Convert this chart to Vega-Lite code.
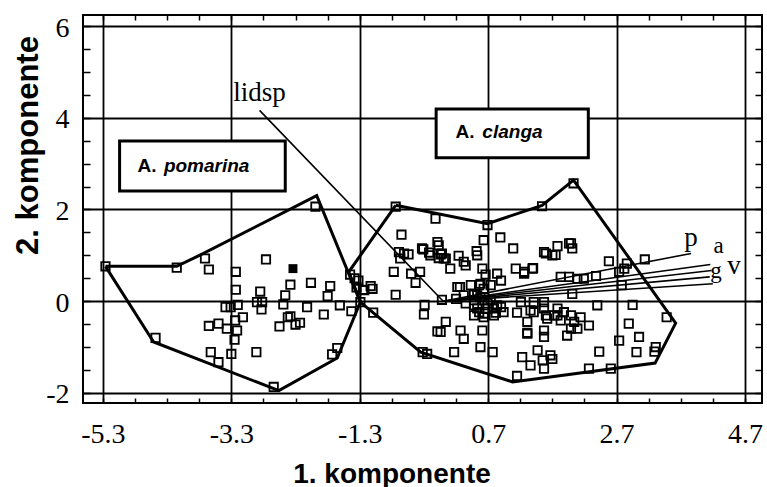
{
  "$schema": "https://vega.github.io/schema/vega-lite/v6.json",
  "width": 679,
  "height": 388,
  "autosize": {"type": "none"},
  "padding": {"left": 83, "top": 15, "right": 5, "bottom": 84},
  "background": "white",
  "config": {
    "view": {"stroke": "black", "strokeWidth": 2},
    "axis": {
      "domain": false,
      "gridColor": "black",
      "gridWidth": 1.8,
      "tickColor": "black",
      "tickWidth": 1.5,
      "labelColor": "black",
      "labelFont": "Liberation Serif",
      "labelFontSize": 28,
      "titleColor": "black",
      "titleFont": "Liberation Sans",
      "titleFontWeight": "bold",
      "titleFontSize": 28,
      "labelOverlap": false,
      "labelFlush": false
    }
  },
  "datasets": {
    "points": [
      {"x": -5.26, "y": 0.76, "species": "pomarina", "kind": "open"},
      {"x": -4.15, "y": 0.73, "species": "pomarina", "kind": "open"},
      {"x": -3.71, "y": 0.93, "species": "pomarina", "kind": "open"},
      {"x": -3.65, "y": 0.69, "species": "pomarina", "kind": "open"},
      {"x": -3.23, "y": 0.64, "species": "pomarina", "kind": "open"},
      {"x": -3.23, "y": 0.25, "species": "pomarina", "kind": "open"},
      {"x": -2.76, "y": 0.91, "species": "pomarina", "kind": "open"},
      {"x": -2.85, "y": 0.21, "species": "pomarina", "kind": "open"},
      {"x": -2.90, "y": -0.02, "species": "pomarina", "kind": "open"},
      {"x": -2.82, "y": -0.02, "species": "pomarina", "kind": "open"},
      {"x": -2.83, "y": -0.18, "species": "pomarina", "kind": "open"},
      {"x": -2.46, "y": 0.13, "species": "pomarina", "kind": "open"},
      {"x": -2.49, "y": -0.07, "species": "pomarina", "kind": "open"},
      {"x": -2.42, "y": -0.35, "species": "pomarina", "kind": "open"},
      {"x": -3.39, "y": -0.13, "species": "pomarina", "kind": "open"},
      {"x": -3.31, "y": -0.13, "species": "pomarina", "kind": "open"},
      {"x": -3.65, "y": -0.54, "species": "pomarina", "kind": "open"},
      {"x": -3.50, "y": -0.49, "species": "pomarina", "kind": "open"},
      {"x": -3.37, "y": -0.60, "species": "pomarina", "kind": "open"},
      {"x": -3.24, "y": -0.42, "species": "pomarina", "kind": "open"},
      {"x": -3.12, "y": -0.35, "species": "pomarina", "kind": "open"},
      {"x": -3.21, "y": -0.64, "species": "pomarina", "kind": "open"},
      {"x": -3.25, "y": -0.84, "species": "pomarina", "kind": "open"},
      {"x": -3.62, "y": -1.11, "species": "pomarina", "kind": "open"},
      {"x": -3.50, "y": -1.33, "species": "pomarina", "kind": "open"},
      {"x": -3.30, "y": -1.15, "species": "pomarina", "kind": "open"},
      {"x": -2.91, "y": -1.11, "species": "pomarina", "kind": "open"},
      {"x": -4.48, "y": -0.80, "species": "pomarina", "kind": "open"},
      {"x": -2.64, "y": -1.87, "species": "pomarina", "kind": "open"},
      {"x": -1.99, "y": 2.06, "species": "pomarina", "kind": "open"},
      {"x": -2.38, "y": 0.36, "species": "pomarina", "kind": "open"},
      {"x": -2.06, "y": 0.40, "species": "pomarina", "kind": "open"},
      {"x": -1.76, "y": 0.33, "species": "pomarina", "kind": "open"},
      {"x": -1.80, "y": 0.11, "species": "pomarina", "kind": "open"},
      {"x": -2.12, "y": -0.13, "species": "pomarina", "kind": "open"},
      {"x": -1.86, "y": -0.29, "species": "pomarina", "kind": "open"},
      {"x": -1.61, "y": -0.09, "species": "pomarina", "kind": "open"},
      {"x": -1.43, "y": -0.22, "species": "pomarina", "kind": "open"},
      {"x": -2.38, "y": -0.33, "species": "pomarina", "kind": "open"},
      {"x": -2.30, "y": -0.51, "species": "pomarina", "kind": "open"},
      {"x": -2.23, "y": -0.47, "species": "pomarina", "kind": "open"},
      {"x": -1.73, "y": -1.16, "species": "pomarina", "kind": "open"},
      {"x": -1.65, "y": -1.02, "species": "pomarina", "kind": "open"},
      {"x": -1.45, "y": 0.58, "species": "pomarina", "kind": "open"},
      {"x": -1.32, "y": 0.45, "species": "pomarina", "kind": "open"},
      {"x": -1.38, "y": 0.50, "species": "pomarina", "kind": "open"},
      {"x": -1.35, "y": 0.30, "species": "pomarina", "kind": "open"},
      {"x": -1.25, "y": 0.25, "species": "pomarina", "kind": "open"},
      {"x": -3.20, "y": -0.08, "species": "pomarina", "kind": "open"},
      {"x": -2.55, "y": -0.55, "species": "pomarina", "kind": "open"},
      {"x": -2.34, "y": 0.71, "species": "pomarina", "kind": "solid"},
      {"x": -1.13, "y": 0.33, "species": "clanga", "kind": "open"},
      {"x": -1.10, "y": 0.27, "species": "clanga", "kind": "open"},
      {"x": -1.23, "y": 0.24, "species": "clanga", "kind": "open"},
      {"x": -1.29, "y": -0.02, "species": "clanga", "kind": "open"},
      {"x": -1.09, "y": -0.25, "species": "clanga", "kind": "open"},
      {"x": -0.74, "y": 2.06, "species": "clanga", "kind": "open"},
      {"x": -0.12, "y": 1.80, "species": "clanga", "kind": "open"},
      {"x": -0.65, "y": 1.45, "species": "clanga", "kind": "open"},
      {"x": -0.09, "y": 1.29, "species": "clanga", "kind": "open"},
      {"x": -0.69, "y": 1.07, "species": "clanga", "kind": "open"},
      {"x": -0.61, "y": 1.04, "species": "clanga", "kind": "open"},
      {"x": -0.54, "y": 1.02, "species": "clanga", "kind": "open"},
      {"x": -0.67, "y": 0.93, "species": "clanga", "kind": "open"},
      {"x": -0.31, "y": 1.13, "species": "clanga", "kind": "open"},
      {"x": -0.20, "y": 1.00, "species": "clanga", "kind": "open"},
      {"x": -0.22, "y": 1.06, "species": "clanga", "kind": "open"},
      {"x": -0.77, "y": 0.64, "species": "clanga", "kind": "open"},
      {"x": -0.50, "y": 0.60, "species": "clanga", "kind": "open"},
      {"x": -0.43, "y": 0.40, "species": "clanga", "kind": "open"},
      {"x": -0.36, "y": 0.64, "species": "clanga", "kind": "open"},
      {"x": -0.74, "y": 0.14, "species": "clanga", "kind": "open"},
      {"x": -0.29, "y": -0.08, "species": "clanga", "kind": "open"},
      {"x": -0.30, "y": -0.29, "species": "clanga", "kind": "open"},
      {"x": -0.09, "y": -0.66, "species": "clanga", "kind": "open"},
      {"x": -0.32, "y": -1.11, "species": "clanga", "kind": "open"},
      {"x": -0.25, "y": -1.15, "species": "clanga", "kind": "open"},
      {"x": 0.69, "y": 1.66, "species": "clanga", "kind": "open"},
      {"x": 0.89, "y": 1.39, "species": "clanga", "kind": "open"},
      {"x": 0.63, "y": 1.33, "species": "clanga", "kind": "open"},
      {"x": 1.09, "y": 1.15, "species": "clanga", "kind": "open"},
      {"x": -0.02, "y": 1.04, "species": "clanga", "kind": "open"},
      {"x": 0.01, "y": 0.93, "species": "clanga", "kind": "open"},
      {"x": -0.07, "y": 0.94, "species": "clanga", "kind": "open"},
      {"x": 0.11, "y": 0.71, "species": "clanga", "kind": "open"},
      {"x": 0.24, "y": 0.99, "species": "clanga", "kind": "open"},
      {"x": 0.32, "y": 0.86, "species": "clanga", "kind": "open"},
      {"x": 0.35, "y": 0.78, "species": "clanga", "kind": "open"},
      {"x": 0.53, "y": 1.00, "species": "clanga", "kind": "open"},
      {"x": 0.52, "y": 1.09, "species": "clanga", "kind": "open"},
      {"x": 0.61, "y": 0.71, "species": "clanga", "kind": "open"},
      {"x": 0.66, "y": 0.58, "species": "clanga", "kind": "open"},
      {"x": 0.84, "y": 0.60, "species": "clanga", "kind": "open"},
      {"x": 1.13, "y": 0.71, "species": "clanga", "kind": "open"},
      {"x": 1.26, "y": 0.64, "species": "clanga", "kind": "open"},
      {"x": 1.40, "y": 0.72, "species": "clanga", "kind": "open"},
      {"x": 1.60, "y": 1.04, "species": "clanga", "kind": "open"},
      {"x": 1.75, "y": 1.01, "species": "clanga", "kind": "open"},
      {"x": 1.78, "y": 1.20, "species": "clanga", "kind": "open"},
      {"x": 0.26, "y": 0.31, "species": "clanga", "kind": "open"},
      {"x": 0.43, "y": 0.35, "species": "clanga", "kind": "open"},
      {"x": 0.58, "y": 0.38, "species": "clanga", "kind": "open"},
      {"x": -0.02, "y": 0.03, "species": "clanga", "kind": "open"},
      {"x": 0.48, "y": 0.02, "species": "clanga", "kind": "open"},
      {"x": 0.58, "y": 0.09, "species": "clanga", "kind": "open"},
      {"x": 0.69, "y": -0.05, "species": "clanga", "kind": "open"},
      {"x": 0.79, "y": -0.16, "species": "clanga", "kind": "open"},
      {"x": 0.90, "y": -0.13, "species": "clanga", "kind": "open"},
      {"x": 0.53, "y": -0.16, "species": "clanga", "kind": "open"},
      {"x": 0.48, "y": -0.31, "species": "clanga", "kind": "open"},
      {"x": 0.64, "y": -0.27, "species": "clanga", "kind": "open"},
      {"x": 0.82, "y": -0.25, "species": "clanga", "kind": "open"},
      {"x": 0.74, "y": 0.02, "species": "clanga", "kind": "open"},
      {"x": 0.64, "y": 0.02, "species": "clanga", "kind": "open"},
      {"x": 0.48, "y": 0.14, "species": "clanga", "kind": "open"},
      {"x": 0.74, "y": 0.35, "species": "clanga", "kind": "open"},
      {"x": 1.15, "y": -0.25, "species": "clanga", "kind": "open"},
      {"x": 1.36, "y": -0.20, "species": "clanga", "kind": "open"},
      {"x": 1.21, "y": -0.02, "species": "clanga", "kind": "open"},
      {"x": 1.41, "y": -0.02, "species": "clanga", "kind": "open"},
      {"x": 1.57, "y": -0.02, "species": "clanga", "kind": "open"},
      {"x": 1.60, "y": -0.31, "species": "clanga", "kind": "open"},
      {"x": 0.04, "y": -0.45, "species": "clanga", "kind": "open"},
      {"x": -0.04, "y": -0.67, "species": "clanga", "kind": "open"},
      {"x": 0.27, "y": -0.64, "species": "clanga", "kind": "open"},
      {"x": 0.32, "y": -0.82, "species": "clanga", "kind": "open"},
      {"x": 0.61, "y": -0.64, "species": "clanga", "kind": "open"},
      {"x": 0.58, "y": -1.00, "species": "clanga", "kind": "open"},
      {"x": 0.77, "y": -1.11, "species": "clanga", "kind": "open"},
      {"x": 0.17, "y": -1.11, "species": "clanga", "kind": "open"},
      {"x": 1.31, "y": -0.69, "species": "clanga", "kind": "open"},
      {"x": 1.57, "y": -0.78, "species": "clanga", "kind": "open"},
      {"x": 1.23, "y": -1.22, "species": "clanga", "kind": "open"},
      {"x": 1.36, "y": -1.40, "species": "clanga", "kind": "open"},
      {"x": 1.47, "y": -1.07, "species": "clanga", "kind": "open"},
      {"x": 1.55, "y": -1.29, "species": "clanga", "kind": "open"},
      {"x": 1.57, "y": -1.47, "species": "clanga", "kind": "open"},
      {"x": 1.15, "y": -1.63, "species": "clanga", "kind": "open"},
      {"x": 1.54, "y": 2.07, "species": "clanga", "kind": "open"},
      {"x": 2.03, "y": 2.57, "species": "clanga", "kind": "open"},
      {"x": 1.99, "y": 1.26, "species": "clanga", "kind": "open"},
      {"x": 2.01, "y": 1.15, "species": "clanga", "kind": "open"},
      {"x": 2.58, "y": 0.87, "species": "clanga", "kind": "open"},
      {"x": 2.86, "y": 0.82, "species": "clanga", "kind": "open"},
      {"x": 2.74, "y": 0.64, "species": "clanga", "kind": "open"},
      {"x": 2.82, "y": 0.71, "species": "clanga", "kind": "open"},
      {"x": 3.14, "y": 0.91, "species": "clanga", "kind": "open"},
      {"x": 1.83, "y": 0.53, "species": "clanga", "kind": "open"},
      {"x": 1.96, "y": 0.53, "species": "clanga", "kind": "open"},
      {"x": 2.19, "y": 0.49, "species": "clanga", "kind": "open"},
      {"x": 2.38, "y": 0.55, "species": "clanga", "kind": "open"},
      {"x": 2.01, "y": 0.16, "species": "clanga", "kind": "open"},
      {"x": 2.78, "y": 0.35, "species": "clanga", "kind": "open"},
      {"x": 2.40, "y": -0.09, "species": "clanga", "kind": "open"},
      {"x": 2.95, "y": -0.08, "species": "clanga", "kind": "open"},
      {"x": 3.48, "y": -0.35, "species": "clanga", "kind": "open"},
      {"x": 2.89, "y": -0.49, "species": "clanga", "kind": "open"},
      {"x": 3.05, "y": -0.78, "species": "clanga", "kind": "open"},
      {"x": 2.74, "y": -0.86, "species": "clanga", "kind": "open"},
      {"x": 3.31, "y": -1.00, "species": "clanga", "kind": "open"},
      {"x": 3.29, "y": -1.10, "species": "clanga", "kind": "open"},
      {"x": 3.01, "y": -1.11, "species": "clanga", "kind": "open"},
      {"x": 2.43, "y": -1.10, "species": "clanga", "kind": "open"},
      {"x": 1.70, "y": -1.26, "species": "clanga", "kind": "open"},
      {"x": 2.27, "y": -1.47, "species": "clanga", "kind": "open"},
      {"x": 2.61, "y": -1.47, "species": "clanga", "kind": "open"},
      {"x": 1.78, "y": -0.16, "species": "clanga", "kind": "open"},
      {"x": 1.88, "y": -0.24, "species": "clanga", "kind": "open"},
      {"x": 1.99, "y": -0.31, "species": "clanga", "kind": "open"},
      {"x": 2.14, "y": -0.35, "species": "clanga", "kind": "open"},
      {"x": 2.27, "y": -0.53, "species": "clanga", "kind": "open"},
      {"x": 2.09, "y": -0.60, "species": "clanga", "kind": "open"},
      {"x": 1.93, "y": -0.75, "species": "clanga", "kind": "open"},
      {"x": 2.04, "y": -0.45, "species": "clanga", "kind": "open"},
      {"x": 1.83, "y": -0.42, "species": "clanga", "kind": "open"},
      {"x": 1.73, "y": -0.31, "species": "clanga", "kind": "open"},
      {"x": -0.33, "y": 1.15, "species": "clanga", "kind": "open"},
      {"x": -0.04, "y": 1.02, "species": "clanga", "kind": "open"},
      {"x": -0.07, "y": 1.22, "species": "clanga", "kind": "open"},
      {"x": 0.04, "y": 0.93, "species": "clanga", "kind": "open"},
      {"x": 0.22, "y": 0.31, "species": "clanga", "kind": "open"},
      {"x": 0.56, "y": 0.35, "species": "clanga", "kind": "open"},
      {"x": 0.32, "y": 0.13, "species": "clanga", "kind": "open"},
      {"x": 0.53, "y": 0.13, "species": "clanga", "kind": "open"},
      {"x": 0.63, "y": 0.27, "species": "clanga", "kind": "open"},
      {"x": 0.48, "y": -0.09, "species": "clanga", "kind": "open"},
      {"x": 0.56, "y": -0.24, "species": "clanga", "kind": "open"},
      {"x": 0.69, "y": -0.16, "species": "clanga", "kind": "open"},
      {"x": 0.84, "y": -0.09, "species": "clanga", "kind": "open"},
      {"x": 0.94, "y": -0.24, "species": "clanga", "kind": "open"},
      {"x": 0.79, "y": -0.31, "species": "clanga", "kind": "open"},
      {"x": 0.63, "y": -0.35, "species": "clanga", "kind": "open"},
      {"x": 1.31, "y": -0.45, "species": "clanga", "kind": "open"},
      {"x": 1.41, "y": -0.24, "species": "clanga", "kind": "open"},
      {"x": 1.57, "y": -0.16, "species": "clanga", "kind": "open"},
      {"x": 1.62, "y": -0.38, "species": "clanga", "kind": "open"},
      {"x": 1.78, "y": -0.31, "species": "clanga", "kind": "open"},
      {"x": 1.99, "y": -0.60, "species": "clanga", "kind": "open"},
      {"x": 1.57, "y": -0.64, "species": "clanga", "kind": "open"},
      {"x": 1.31, "y": -0.71, "species": "clanga", "kind": "open"},
      {"x": 1.67, "y": -1.18, "species": "clanga", "kind": "open"},
      {"x": 1.26, "y": 0.60, "species": "clanga", "kind": "open"},
      {"x": 1.39, "y": 0.71, "species": "clanga", "kind": "open"},
      {"x": 1.57, "y": 1.07, "species": "clanga", "kind": "open"},
      {"x": 1.70, "y": 1.00, "species": "clanga", "kind": "open"},
      {"x": 1.96, "y": 1.26, "species": "clanga", "kind": "open"},
      {"x": 2.09, "y": 0.49, "species": "clanga", "kind": "open"},
      {"x": 0.35, "y": -0.05, "species": "clanga", "kind": "open"},
      {"x": 0.20, "y": 0.05, "species": "clanga", "kind": "open"},
      {"x": 0.90, "y": 0.45, "species": "clanga", "kind": "open"}
    ],
    "hulls": [
      {"species": "pomarina", "order": 1, "x": -5.26, "y": 0.76},
      {"species": "pomarina", "order": 2, "x": -4.15, "y": 0.76},
      {"species": "pomarina", "order": 3, "x": -3.78, "y": 1.01},
      {"species": "pomarina", "order": 4, "x": -1.97, "y": 2.30},
      {"species": "pomarina", "order": 5, "x": -1.29, "y": -0.02},
      {"species": "pomarina", "order": 6, "x": -1.65, "y": -1.24},
      {"species": "pomarina", "order": 7, "x": -2.56, "y": -1.95},
      {"species": "pomarina", "order": 8, "x": -4.51, "y": -0.89},
      {"species": "pomarina", "order": 9, "x": -5.26, "y": 0.76},
      {"species": "clanga", "order": 1, "x": -0.74, "y": 2.09},
      {"species": "clanga", "order": 2, "x": 0.69, "y": 1.69},
      {"species": "clanga", "order": 3, "x": 1.54, "y": 2.09},
      {"species": "clanga", "order": 4, "x": 2.03, "y": 2.64},
      {"species": "clanga", "order": 5, "x": 3.62, "y": -0.48},
      {"species": "clanga", "order": 6, "x": 3.30, "y": -1.35},
      {"species": "clanga", "order": 7, "x": 1.08, "y": -1.76},
      {"species": "clanga", "order": 8, "x": -0.35, "y": -1.11},
      {"species": "clanga", "order": 9, "x": -1.29, "y": -0.02},
      {"species": "clanga", "order": 10, "x": -1.47, "y": 0.64},
      {"species": "clanga", "order": 11, "x": -0.74, "y": 2.09}
    ],
    "vectors": [
      {"var": "lidsp", "order": 1, "x": 0, "y": 0},
      {"var": "lidsp", "order": 2, "x": -2.86, "y": 4.16},
      {"var": "p", "order": 1, "x": 0, "y": 0},
      {"var": "p", "order": 2, "x": 3.86, "y": 1.04},
      {"var": "a", "order": 1, "x": 0, "y": 0},
      {"var": "a", "order": 2, "x": 4.16, "y": 0.80},
      {"var": "v", "order": 1, "x": 0, "y": 0},
      {"var": "v", "order": 2, "x": 4.18, "y": 0.67},
      {"var": "g", "order": 1, "x": 0, "y": 0},
      {"var": "g", "order": 2, "x": 4.15, "y": 0.53},
      {"var": "e", "order": 1, "x": 0, "y": 0},
      {"var": "e", "order": 2, "x": 4.2, "y": 0.38}
    ],
    "bigLabels": [
      {"text": "lidsp", "x": -2.86, "y": 4.36},
      {"text": "p", "x": 3.86, "y": 1.21},
      {"text": "v", "x": 4.53, "y": 0.60}
    ],
    "smallLabels": [
      {"text": "a", "x": 4.29, "y": 1.04},
      {"text": "g", "x": 4.25, "y": 0.50}
    ],
    "boxes": [
      {"species": "pomarina", "x": -5.04, "x2": -2.46, "y": 2.40, "y2": 3.49, "genus": "A.", "gx": -4.76, "sx": -4.35, "ty": 2.806},
      {"species": "clanga", "x": -0.11, "x2": 2.26, "y": 3.13, "y2": 4.19, "genus": "A.", "gx": 0.19, "sx": 0.61, "ty": 3.548}
    ]
  },
  "resolve": {"axis": {"x": "independent", "y": "independent"}},
  "layer": [
    {
      "data": {"name": "points"},
      "transform": [{"filter": "datum.kind == 'open'"}],
      "mark": {"type": "square", "filled": false, "stroke": "black", "strokeWidth": 1.8, "size": 70, "opacity": 1},
      "encoding": {
        "x": {
          "field": "x", "type": "quantitative",
          "scale": {"domain": [-5.61, 4.965], "nice": false, "zero": false},
          "axis": {
            "orient": "bottom",
            "values": [-5.3, -4.8, -4.3, -3.8, -3.3, -2.8, -2.3, -1.8, -1.3, -0.8, -0.3, 0.2, 0.7, 1.2, 1.7, 2.2, 2.7, 3.2, 3.7, 4.2, 4.7],
            "grid": true,
            "gridOpacity": {"condition": {"test": "round((datum.value+5.3)*10)%20==0", "value": 1}, "value": 0},
            "ticks": true,
            "tickSize": -5,
            "labelExpr": "round((datum.value+5.3)*10)%20==0 ? (datum.value<0 ? '-' : '') + format(abs(datum.value), '.1f') : ''",
            "labelPadding": 44,
            "labelBaseline": "alphabetic",
            "title": "1. komponente",
            "titleX": 308.5,
            "titleY": 79,
            "titleAlign": "center",
            "titleBaseline": "alphabetic"
          }
        },
        "y": {
          "field": "y", "type": "quantitative",
          "scale": {"domain": [-2.22, 6.24], "nice": false, "zero": false},
          "axis": {
            "orient": "left",
            "values": [-2, -1.5, -1, -0.5, 0, 0.5, 1, 1.5, 2, 2.5, 3, 3.5, 4, 4.5, 5, 5.5, 6],
            "grid": true,
            "gridOpacity": {"condition": {"test": "round(datum.value*10)%20==0", "value": 1}, "value": 0},
            "ticks": true,
            "tickSize": -7,
            "labelExpr": "round(datum.value*10)%20==0 ? (datum.value<0 ? '-' : '') + format(abs(datum.value), 'd') : ''",
            "labelPadding": 21,
            "labelAlign": "right",
            "labelBaseline": "middle",
            "labelOffset": 2,
            "title": "2. komponente",
            "titleAngle": -90,
            "titleX": -55,
            "titleY": 130,
            "titleAlign": "center",
            "titleBaseline": "middle",
            "titleFontSize": 31
          }
        }
      }
    },
    {
      "data": {"name": "hulls"},
      "mark": {"type": "line", "stroke": "black", "strokeWidth": 3, "strokeJoin": "miter"},
      "encoding": {
        "x": {
          "field": "x", "type": "quantitative",
          "scale": {"domain": [-5.61, 4.965], "nice": false, "zero": false},
          "axis": {
            "orient": "top",
            "values": [-5.3, -4.8, -4.3, -3.8, -3.3, -2.8, -2.3, -1.8, -1.3, -0.8, -0.3, 0.2, 0.7, 1.2, 1.7, 2.2, 2.7, 3.2, 3.7, 4.2, 4.7],
            "grid": false, "labels": false, "ticks": true, "tickSize": -5, "title": null
          }
        },
        "y": {
          "field": "y", "type": "quantitative",
          "scale": {"domain": [-2.22, 6.24], "nice": false, "zero": false},
          "axis": {
            "orient": "right",
            "values": [-2, -1.5, -1, -0.5, 0, 0.5, 1, 1.5, 2, 2.5, 3, 3.5, 4, 4.5, 5, 5.5, 6],
            "grid": false, "labels": false, "ticks": true, "tickSize": -7, "title": null
          }
        },
        "detail": {"field": "species"},
        "order": {"field": "order", "type": "quantitative"}
      }
    },
    {
      "data": {"name": "vectors"},
      "mark": {"type": "line", "stroke": "black", "strokeWidth": 1.6},
      "encoding": {
        "x": {"field": "x", "type": "quantitative", "scale": {"domain": [-5.61, 4.965], "nice": false, "zero": false}, "axis": null},
        "y": {"field": "y", "type": "quantitative", "scale": {"domain": [-2.22, 6.24], "nice": false, "zero": false}, "axis": null},
        "detail": {"field": "var"},
        "order": {"field": "order", "type": "quantitative"}
      }
    },
    {
      "data": {"name": "points"},
      "transform": [{"filter": "datum.kind == 'solid'"}],
      "mark": {"type": "square", "filled": true, "color": "black", "size": 80, "opacity": 1},
      "encoding": {
        "x": {"field": "x", "type": "quantitative", "scale": {"domain": [-5.61, 4.965], "nice": false, "zero": false}, "axis": null},
        "y": {"field": "y", "type": "quantitative", "scale": {"domain": [-2.22, 6.24], "nice": false, "zero": false}, "axis": null}
      }
    },
    {
      "data": {"name": "boxes"},
      "mark": {"type": "rect", "fill": "white", "stroke": "black", "strokeWidth": 3},
      "encoding": {
        "x": {"field": "x", "type": "quantitative", "scale": {"domain": [-5.61, 4.965], "nice": false, "zero": false}, "axis": null},
        "x2": {"field": "x2"},
        "y": {"field": "y", "type": "quantitative", "scale": {"domain": [-2.22, 6.24], "nice": false, "zero": false}, "axis": null},
        "y2": {"field": "y2"}
      }
    },
    {
      "data": {"name": "boxes"},
      "mark": {"type": "text", "font": "Liberation Sans", "fontWeight": "bold", "fontSize": 19, "align": "left", "baseline": "alphabetic", "color": "black"},
      "encoding": {
        "x": {"field": "gx", "type": "quantitative", "scale": {"domain": [-5.61, 4.965], "nice": false, "zero": false}, "axis": null},
        "y": {"field": "ty", "type": "quantitative", "scale": {"domain": [-2.22, 6.24], "nice": false, "zero": false}, "axis": null},
        "text": {"field": "genus"}
      }
    },
    {
      "data": {"name": "boxes"},
      "mark": {"type": "text", "font": "Liberation Sans", "fontWeight": "bold", "fontStyle": "italic", "fontSize": 19, "align": "left", "baseline": "alphabetic", "color": "black"},
      "encoding": {
        "x": {"field": "sx", "type": "quantitative", "scale": {"domain": [-5.61, 4.965], "nice": false, "zero": false}, "axis": null},
        "y": {"field": "ty", "type": "quantitative", "scale": {"domain": [-2.22, 6.24], "nice": false, "zero": false}, "axis": null},
        "text": {"field": "species"}
      }
    },
    {
      "data": {"name": "bigLabels"},
      "mark": {"type": "text", "font": "Liberation Serif", "fontSize": 27, "align": "center", "baseline": "alphabetic", "color": "black"},
      "encoding": {
        "x": {"field": "x", "type": "quantitative", "scale": {"domain": [-5.61, 4.965], "nice": false, "zero": false}, "axis": null},
        "y": {"field": "y", "type": "quantitative", "scale": {"domain": [-2.22, 6.24], "nice": false, "zero": false}, "axis": null},
        "text": {"field": "text"}
      }
    },
    {
      "data": {"name": "smallLabels"},
      "mark": {"type": "text", "font": "Liberation Serif", "fontSize": 23, "align": "center", "baseline": "alphabetic", "color": "black"},
      "encoding": {
        "x": {"field": "x", "type": "quantitative", "scale": {"domain": [-5.61, 4.965], "nice": false, "zero": false}, "axis": null},
        "y": {"field": "y", "type": "quantitative", "scale": {"domain": [-2.22, 6.24], "nice": false, "zero": false}, "axis": null},
        "text": {"field": "text"}
      }
    }
  ]
}
